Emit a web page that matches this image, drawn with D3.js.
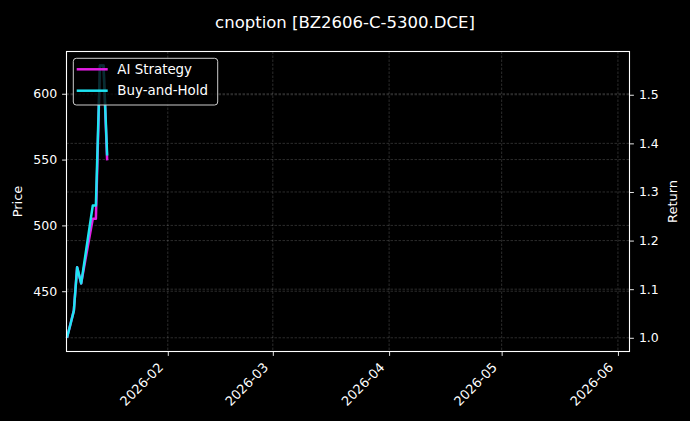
<!DOCTYPE html>
<html>
<head>
<meta charset="utf-8">
<script src="https://cdn.jsdelivr.net/npm/d3@7"></script>
<style>
  html, body { margin: 0; padding: 0; background: #000; }
  svg { display: block; font-family: "DejaVu Sans", sans-serif; }
</style>
</head>
<body>
<div id="chart"></div>
<script>
// values
const times = [
  "2026-01-05T03:00", "2026-01-06T02:00", "2026-01-06T23:00", "2026-01-07T20:00",
  "2026-01-08T22:00", "2026-01-12T00:00", "2026-01-12T20:00", "2026-01-13T22:00",
  "2026-01-14T21:00", "2026-01-15T20:00"
];
const aiStrategy = [1.000, 1.029, 1.056, 1.145, 1.112, 1.245, 1.245, 1.560, 1.560, 1.365];
const buyAndHold = [1.000, 1.029, 1.056, 1.145, 1.112, 1.272, 1.272, 1.560, 1.560, 1.375];

const xRange = ["2026-01-05T00:00", "2026-06-04T02:00"];
const xTicks = ["2026-02-01", "2026-03-01", "2026-04-01", "2026-05-01", "2026-06-01"];
const priceRange = [404.2, 632.1];
const priceTicks = [450, 500, 550, 600];
const returnRange = [0.9718, 1.589];
const returnTicks = [1.0, 1.1, 1.2, 1.3, 1.4, 1.5];

const title = "cnoption [BZ2606-C-5300.DCE]";
const seriesNames = ["AI Strategy", "Buy-and-Hold"];
const seriesColors = ["#e41ee4", "#1ee4f2"];

const width = 690;
const height = 421;
const plotLeft = 66.5, plotRight = 629.5, plotTop = 51.5, plotBottom = 351.5;

const parse = d3.isoParse;

const x = d3.scaleTime()
  .domain(xRange.map(parse))
  .range([plotLeft, plotRight]);

const yPrice = d3.scaleLinear().domain(priceRange).range([plotBottom, plotTop]);
const yReturn = d3.scaleLinear().domain(returnRange).range([plotBottom, plotTop]);

const svg = d3.select("#chart")
  .append("svg")
  .attr("width", width)
  .attr("height", height)
  .style("background", "#000");

// grid lines (both y axes draw their own)
const grid = svg.append("g")
  .attr("stroke", "#fff")
  .attr("stroke-opacity", 0.25)
  .attr("stroke-width", 0.7)
  .attr("stroke-dasharray", "2.5,1.5");

grid.selectAll("line.gx")
  .data(xTicks.map(parse))
  .enter().append("line")
  .attr("x1", d => x(d)).attr("x2", d => x(d))
  .attr("y1", plotTop).attr("y2", plotBottom);

grid.selectAll("line.gp")
  .data(priceTicks)
  .enter().append("line")
  .attr("x1", plotLeft).attr("x2", plotRight)
  .attr("y1", d => yPrice(d)).attr("y2", d => yPrice(d));

grid.selectAll("line.gr")
  .data(returnTicks)
  .enter().append("line")
  .attr("x1", plotLeft).attr("x2", plotRight)
  .attr("y1", d => yReturn(d)).attr("y2", d => yReturn(d));

// lines
const plot = svg.append("g");
const series = [aiStrategy, buyAndHold];

const line = d3.line()
  .x((d, i) => x(parse(times[i])))
  .y(d => yReturn(d));

plot.selectAll("path.series")
  .data(series)
  .enter()
  .append("path")
  .attr("class", "series")
  .attr("d", d => line(d))
  .attr("fill", "none")
  .attr("stroke", (d, i) => seriesColors[i])
  .attr("stroke-width", 2.5)
  .attr("stroke-linejoin", "round");

// axes
const styleAxis = g => {
  g.select(".domain").remove();
  g.selectAll(".tick line").attr("stroke", "#fff").attr("stroke-width", 0.9);
  g.selectAll(".tick text")
    .attr("fill", "#fff")
    .attr("font-size", "12.5px")
    .attr("font-family", "DejaVu Sans, sans-serif");
};

svg.append("g")
  .attr("transform", `translate(${plotLeft},0)`)
  .call(d3.axisLeft(yPrice).tickValues(priceTicks).tickSize(4.4).tickPadding(5).tickFormat(d3.format("d")))
  .call(styleAxis);

svg.append("g")
  .attr("transform", `translate(${plotRight},0)`)
  .call(d3.axisRight(yReturn).tickValues(returnTicks).tickSize(4.4).tickPadding(5).tickFormat(d3.format(".1f")))
  .call(styleAxis);

const xAxis = svg.append("g")
  .attr("transform", `translate(0,${plotBottom})`)
  .call(d3.axisBottom(x).tickValues(xTicks.map(parse)).tickSize(4.4).tickFormat(d3.timeFormat("%Y-%m")))
  .call(styleAxis);

xAxis.selectAll(".tick text")
  .attr("text-anchor", "end")
  .attr("font-size", "13px")
  .attr("dy", "0.35em")
  .attr("y", 0)
  .attr("x", 0)
  .attr("transform", "translate(-7.5,13.5) rotate(-45)");

// frame
svg.append("rect")
  .attr("x", plotLeft).attr("y", plotTop)
  .attr("width", plotRight - plotLeft).attr("height", plotBottom - plotTop)
  .attr("fill", "none")
  .attr("stroke", "#fff")
  .attr("stroke-width", 1.1);

// labels
svg.append("text")
  .attr("x", width / 2)
  .attr("y", 28)
  .attr("text-anchor", "middle")
  .attr("fill", "#fff")
  .attr("font-size", "16.5px")
  .text(title);

svg.append("text")
  .attr("transform", `translate(17,${(plotTop + plotBottom) / 2}) rotate(-90)`)
  .attr("text-anchor", "middle")
  .attr("dy", "0.35em")
  .attr("fill", "#fff")
  .attr("font-size", "13px")
  .text("Price");

svg.append("text")
  .attr("transform", `translate(672,${(plotTop + plotBottom) / 2}) rotate(-90)`)
  .attr("text-anchor", "middle")
  .attr("dy", "0.35em")
  .attr("fill", "#fff")
  .attr("font-size", "13px")
  .text("Return");

// legend
const legend = svg.append("g").attr("transform", "translate(73.3,58.3)");

legend.append("rect")
  .attr("width", 144.4)
  .attr("height", 46.7)
  .attr("rx", 3)
  .attr("fill", "#000")
  .attr("fill-opacity", 0.8)
  .attr("stroke", "#ccc")
  .attr("stroke-width", 1);

const items = legend.selectAll("g.item")
  .data(seriesNames)
  .enter()
  .append("g")
  .attr("class", "item")
  .attr("transform", (d, i) => `translate(0,${11 + i * 21.4})`);

items.append("line")
  .attr("x1", 3.4).attr("x2", 34.4)
  .attr("stroke", (d, i) => seriesColors[i])
  .attr("stroke-width", 2.5);

items.append("text")
  .attr("x", 44)
  .attr("dy", "0.35em")
  .attr("fill", "#fff")
  .attr("font-size", "13.4px")
  .text(d => d);
</script>
</body>
</html>
